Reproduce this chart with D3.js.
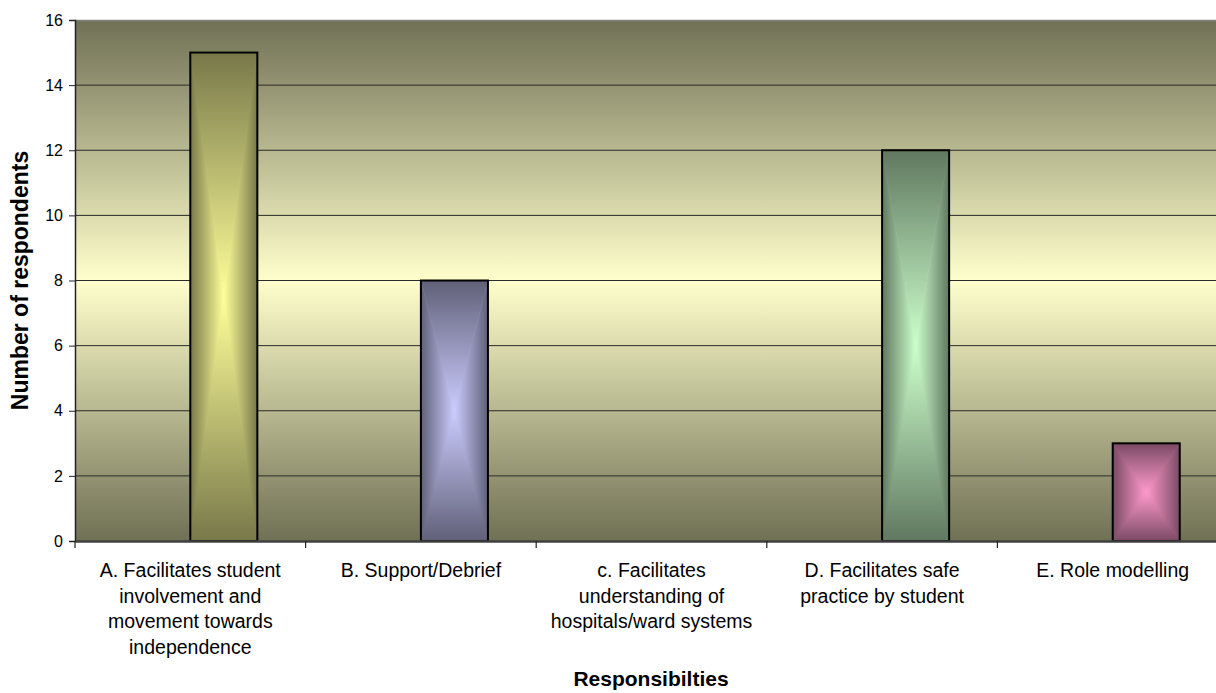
<!DOCTYPE html>
<html>
<head>
<meta charset="utf-8">
<script src="https://cdn.jsdelivr.net/npm/d3@7"></script>
<style>
  body { margin: 0; background: #fff; }
  svg { display: block; font-family: "Liberation Sans", Arial, sans-serif; }
</style>
</head>
<body>
<svg width="1216" height="693"></svg>
<script>
// data
const categories = ["A", "B", "C", "D", "E"];
const catLabels = [
    ["A. Facilitates student", "involvement and", "movement towards", "independence"],
    ["B. Support/Debrief"],
    ["c. Facilitates", "understanding of", "hospitals/ward systems"],
    ["D. Facilitates safe", "practice by student"],
    ["E. Role modelling"]
];
const values = [15, 8, 0, 12, 3];
// the original chart keeps an empty series slot left of each bar
const slots = ["empty", "respondents"];
const yTicks = [0, 2, 4, 6, 8, 10, 12, 14, 16];
const yTitle = "Number of respondents";
const xTitle = "Responsibilties";

// bar colours: [edge, centre]
const palette = [
    ["#78784a", "#ffff99"],
    ["#606078", "#ccccff"],
    ["#607860", "#ccffcc"],
    ["#607860", "#ccffcc"],
    ["#7a4a64", "#ff99cc"]
];

const svg = d3.select("svg");
const pL = 75, pT = 20, pB = 541, pR = 1228;

const x = d3.scaleBand().domain(categories).range([pL, pR]).padding(0);
const x1 = d3.scaleBand().domain(slots).range([0, x.bandwidth()]).paddingInner(0).paddingOuter(0.72);
const y = d3.scaleLinear().domain([0, 16]).range([pB, pT]);

const defs = svg.append("defs");

// plot background
const bg = defs.append("linearGradient").attr("id", "bg")
    .attr("x1", 0).attr("y1", 0).attr("x2", 0).attr("y2", 1);
bg.append("stop").attr("offset", "0%").attr("stop-color", "#707055");
bg.append("stop").attr("offset", "50%").attr("stop-color", "#ffffcc");
bg.append("stop").attr("offset", "100%").attr("stop-color", "#707055");

svg.append("rect")
    .attr("x", pL).attr("y", pT)
    .attr("width", pR - pL).attr("height", pB - pT)
    .attr("fill", "url(#bg)");

// gridlines
svg.append("g")
    .selectAll("line")
    .data(yTicks.filter(d => d > 0 && d < 16))
    .enter()
    .append("line")
    .attr("x1", pL).attr("x2", pR)
    .attr("y1", d => y(d)).attr("y2", d => y(d))
    .attr("stroke", "#2a2a2a").attr("stroke-width", 1);

// top border of plot area
svg.append("line")
    .attr("x1", pL).attr("x2", pR)
    .attr("y1", pT + 0.5).attr("y2", pT + 0.5)
    .attr("stroke", "#808080").attr("stroke-width", 1.5);

// bars: rectangle "from centre" gradient, built from 4 triangles
const bars = svg.append("g");
values.forEach(function (v, i) {
    if (!v) return;
    const x0 = x(categories[i]) + x1("respondents");
    const xr = x0 + x1.bandwidth();
    const y0 = y(v), yb = y(0);
    const cx = (x0 + xr) / 2, cy = (y0 + yb) / 2;
    const c = palette[i];

    function grad(id, ax, ay, bx, by) {
        const g = defs.append("linearGradient").attr("id", id)
            .attr("gradientUnits", "userSpaceOnUse")
            .attr("x1", ax).attr("y1", ay).attr("x2", bx).attr("y2", by);
        g.append("stop").attr("offset", "0%").attr("stop-color", c[0]);
        g.append("stop").attr("offset", "100%").attr("stop-color", c[1]);
        return "url(#" + id + ")";
    }

    const parts = [
        { pts: [[x0, y0], [xr, y0], [cx, cy]], fill: grad("t" + i, cx, y0, cx, cy) },
        { pts: [[x0, yb], [xr, yb], [cx, cy]], fill: grad("b" + i, cx, yb, cx, cy) },
        { pts: [[x0, y0], [x0, yb], [cx, cy]], fill: grad("l" + i, x0, cy, cx, cy) },
        { pts: [[xr, y0], [xr, yb], [cx, cy]], fill: grad("r" + i, xr, cy, cx, cy) }
    ];
    parts.forEach(function (p) {
        bars.append("path")
            .attr("d", d3.line()(p.pts) + "Z")
            .attr("fill", p.fill)
            .attr("stroke", p.fill).attr("stroke-width", 0.6);
    });
    bars.append("rect")
        .attr("x", x0).attr("y", y0)
        .attr("width", xr - x0).attr("height", yb - y0)
        .attr("fill", "none")
        .attr("stroke", "#000").attr("stroke-width", 2);
});

// y axis
const ya = svg.append("g").attr("transform", "translate(" + pL + ",0)")
    .call(d3.axisLeft(y).tickValues(yTicks).tickSize(6).tickPadding(6).tickFormat(d3.format("d")));
ya.select(".domain").attr("stroke", "#222").attr("stroke-width", 1.5);
ya.selectAll(".tick line").attr("stroke", "#222");
ya.selectAll("text").attr("font-size", 16).attr("fill", "#000")
    .attr("font-family", "Liberation Sans, Arial, sans-serif");

// x axis
const xa = svg.append("g").attr("transform", "translate(0," + pB + ")")
    .call(d3.axisBottom(x).tickSize(0).tickFormat(""));
xa.select(".domain").attr("stroke", "#404040").attr("stroke-width", 2.5);
xa.selectAll(".tick").remove();

// category boundary ticks
svg.append("g")
    .selectAll("line")
    .data(categories)
    .enter()
    .append("line")
    .attr("x1", d => x(d)).attr("x2", d => x(d))
    .attr("y1", pB).attr("y2", pB + 7)
    .attr("stroke", "#222").attr("stroke-width", 1.2);

// category labels
const lab = svg.append("g")
    .selectAll("text")
    .data(categories)
    .enter()
    .append("text")
    .attr("text-anchor", "middle")
    .attr("font-size", 19.5)
    .attr("fill", "#000");
lab.each(function (d, i) {
    const t = d3.select(this);
    catLabels[i].forEach(function (line, k) {
        t.append("tspan")
            .attr("x", x(d) + x.bandwidth() / 2)
            .attr("y", 577 + k * 25.5)
            .text(line);
    });
});

// axis titles
svg.append("text")
    .attr("transform", "translate(28," + ((pT + pB) / 2) + ") rotate(-90)")
    .attr("text-anchor", "middle")
    .attr("font-size", 23).attr("font-weight", "bold")
    .text(yTitle);

svg.append("text")
    .attr("x", 651).attr("y", 686)
    .attr("text-anchor", "middle")
    .attr("font-size", 21).attr("font-weight", "bold")
    .text(xTitle);
</script>
</body>
</html>
